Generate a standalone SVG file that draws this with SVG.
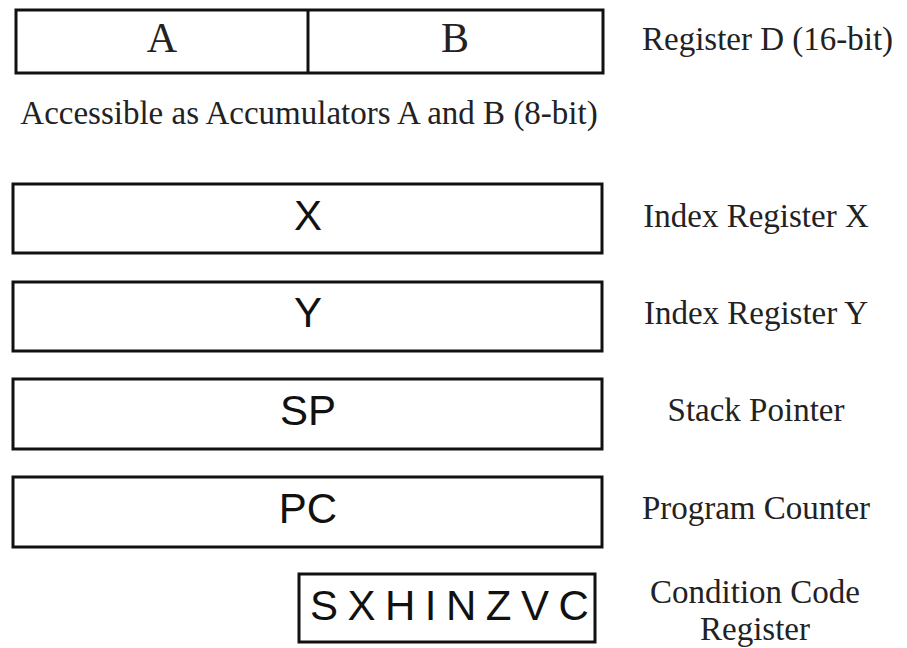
<svg xmlns="http://www.w3.org/2000/svg" width="907" height="648" viewBox="0 0 907 648">
<style>
.box{fill:#fff;stroke:#111;stroke-width:3}
.serif{font-family:"Liberation Serif","Times New Roman",serif;fill:#222}
.sans{font-family:"Liberation Sans",Arial,sans-serif;fill:#111}
.lbl{font-size:33px;text-anchor:middle}
.reg{font-size:42px;text-anchor:middle}
</style>
<rect width="907" height="648" fill="#fff"/>
<g id="regD">
<rect class="box" x="16" y="10" width="587" height="63"/>
<line x1="308" y1="10" x2="308" y2="73" stroke="#111" stroke-width="3"/>
<text class="serif reg" x="162" y="52">A</text>
<text class="serif reg" x="455" y="52">B</text>
<text class="serif" x="642" y="50" font-size="33">Register D (16-bit)</text>
</g>
<text id="accnote" class="serif lbl" x="309" y="124">Accessible as Accumulators A and B (8-bit)</text>
<g id="regX">
<rect class="box" x="13" y="184" width="589" height="69"/>
<text class="sans reg" x="308" y="230">X</text>
<text class="serif lbl" x="756" y="227">Index Register X</text>
</g>
<g id="regY">
<rect class="box" x="13" y="282" width="589" height="69"/>
<text class="sans reg" x="308" y="327">Y</text>
<text class="serif lbl" x="756" y="324">Index Register Y</text>
</g>
<g id="regSP">
<rect class="box" x="13" y="379" width="589" height="70"/>
<text class="sans reg" x="308" y="425">SP</text>
<text class="serif lbl" x="756" y="421">Stack Pointer</text>
</g>
<g id="regPC">
<rect class="box" x="13" y="477" width="589" height="70"/>
<text class="sans reg" x="308" y="523">PC</text>
<text class="serif lbl" x="756" y="519">Program Counter</text>
</g>
<g id="regCCR">
<rect class="box" x="299" y="574" width="296" height="68"/>
<text class="sans" x="310" y="620" font-size="42" letter-spacing="9.5">SXHINZVC</text>
<text class="serif lbl" x="755" y="603">Condition Code</text>
<text class="serif lbl" x="755" y="640">Register</text>
</g>
<g id="connectors"/>
</svg>
